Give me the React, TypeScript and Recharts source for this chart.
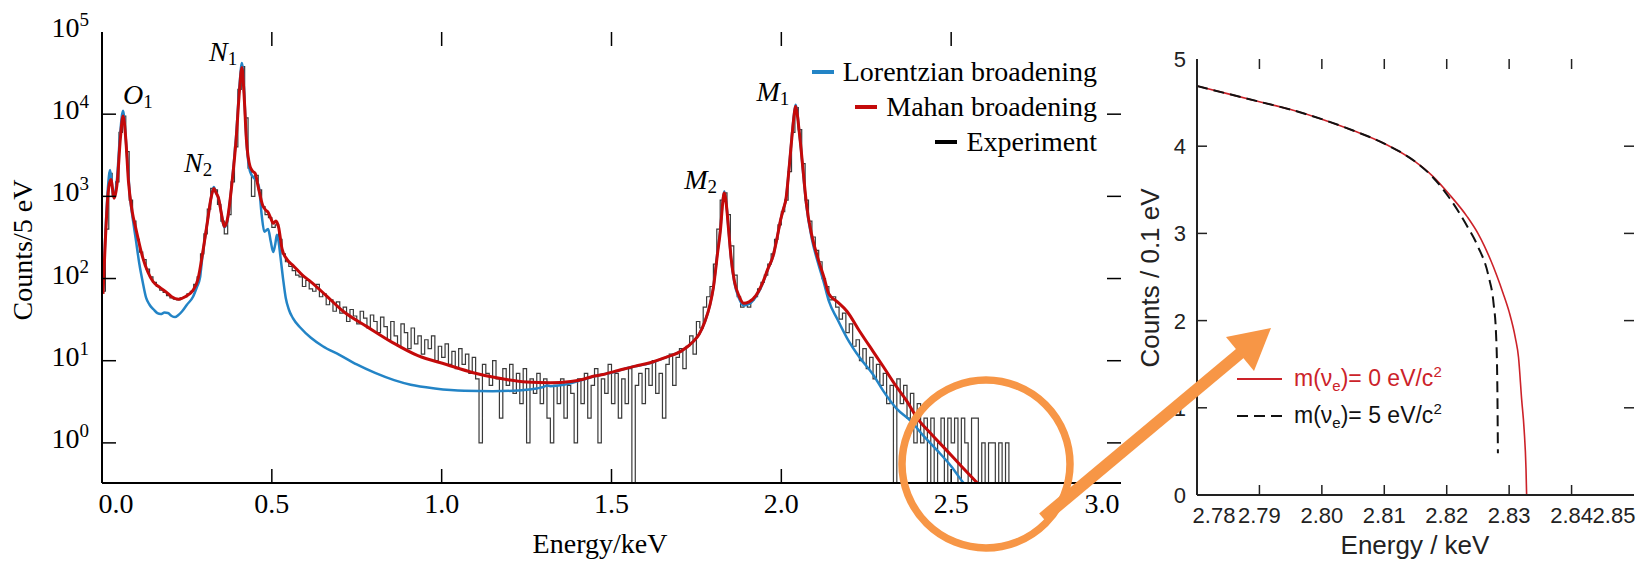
import React from "react";
import { ComposedChart, Legend, Line, Scatter, XAxis, YAxis } from "recharts";

const SERIF = "'Liberation Serif', 'Times New Roman', serif";
const SANS = "'Liberation Sans', Arial, Helvetica, sans-serif";

// ---------- left panel: spectrum, counts per 5 eV (log) ----------
const SPEC_X_DOMAIN: [number, number] = [0, 3];
const SPEC_Y_DOMAIN: [number, number] = [0.325, 100000];
const SPEC_X_TICKS = [0, 0.5, 1, 1.5, 2, 2.5, 3];
const SPEC_Y_TICKS = [1, 10, 100, 1000, 10000, 100000];

// experiment histogram, 0.01 keV bins starting at 0.00 keV
const EXP_START = 0;
const EXP_STEP = 0.01;
const EXP_COUNTS = [
  70, 400, 1900, 1000, 1500, 6000, 9500, 3500, 900, 500,
  300, 210, 170, 130, 105, 90, 80, 72, 68, 62,
  58, 56, 55, 58, 60, 65, 70, 85, 105, 200,
  350, 700, 1250, 1200, 800, 500, 350, 600, 1500, 4000,
  20000, 38000, 9000, 2200, 1000, 1800, 1200, 750, 600, 550,
  420, 450, 300, 200, 160, 140, 125, 110, 105, 80,
  95, 75, 70, 85, 60, 65, 48, 55, 40, 52,
  38, 45, 30, 42, 35, 28, 40, 33, 25, 36,
  30, 22, 34, 26, 18, 30, 20, 15, 28, 22,
  14, 25, 16, 20, 12, 18, 14, 20, 10, 15,
  11, 16, 9, 13, 8, 14, 9, 12, 7, 11,
  6, 1, 9, 7, 5, 10, 6, 2, 8, 5,
  9, 4, 7, 3, 8, 1, 6, 4, 7, 3,
  6, 2, 1, 5, 3, 6, 2, 5, 4, 1,
  6, 3, 7, 2, 5, 8, 1, 6, 4, 9,
  3, 7, 2, 6, 3, 8, 0, 5, 7, 3,
  8, 5, 10, 4, 7, 2, 9, 12, 5, 11,
  14, 8, 15, 20, 12, 30, 25, 45, 60, 80,
  150, 400, 900, 1100, 600, 250, 110, 60, 45, 50,
  45, 55, 60, 75, 90, 110, 150, 200, 300, 450,
  650, 900, 2000, 6000, 12000, 6500, 2500, 900, 500, 320,
  220, 160, 100, 80, 55, 60, 45, 32, 38, 22,
  28, 15, 18, 10, 14, 8, 11, 6, 9, 5,
  7, 3, 5, 0, 6, 3, 5, 2, 4, 1,
  3, 1, 2, 0, 2, 0, 1, 2, 0, 2,
  1, 2, 0, 2, 1, 0, 2, 2, 0, 1,
  0, 1, 1, 0, 1, 0, 1, 0,
];

const LORENTZ: [number, number][] = [
  [0.003, 70], [0.01, 350], [0.017, 1200], [0.024, 2100], [0.034, 1000],
  [0.044, 1600], [0.053, 5500], [0.062, 11000], [0.07, 5000], [0.077, 2000],
  [0.083, 940], [0.091, 520], [0.099, 310], [0.11, 150], [0.12, 90],
  [0.13, 58], [0.14, 48], [0.152, 42], [0.163, 38], [0.173, 37],
  [0.184, 38.5], [0.194, 38], [0.205, 35], [0.215, 34], [0.225, 36],
  [0.236, 40], [0.25, 48], [0.268, 60], [0.28, 80], [0.288, 100],
  [0.296, 190], [0.309, 450], [0.322, 1000], [0.329, 1300], [0.336, 1100],
  [0.343, 950], [0.352, 600], [0.36, 420], [0.368, 480], [0.383, 1550],
  [0.395, 5500], [0.405, 23000], [0.412, 42000], [0.418, 20000], [0.425, 5000],
  [0.436, 2000], [0.446, 1700], [0.455, 1550], [0.462, 1300], [0.47, 600],
  [0.478, 370], [0.489, 400], [0.497, 280], [0.504, 210], [0.51, 260],
  [0.515, 340], [0.52, 280], [0.525, 190], [0.533, 100], [0.541, 58],
  [0.55, 42], [0.562, 33], [0.585, 25], [0.615, 19], [0.65, 15],
  [0.699, 11.8], [0.75, 9], [0.804, 7.1], [0.86, 5.8], [0.909, 5.1],
  [0.98, 4.6], [1.067, 4.3], [1.15, 4.25], [1.225, 4.35], [1.28, 4.6],
  [1.3, 4.8], [1.31, 5.0], [1.32, 4.9], [1.36, 5.1], [1.4, 5.6],
  [1.453, 6.5], [1.508, 7.3], [1.55, 8.2], [1.616, 9.4], [1.66, 11],
  [1.704, 13], [1.74, 17], [1.758, 21], [1.775, 30], [1.79, 48],
  [1.8, 78], [1.812, 210], [1.821, 420], [1.827, 850], [1.832, 1150],
  [1.838, 820], [1.845, 380], [1.852, 175], [1.862, 88], [1.875, 58],
  [1.889, 47], [1.905, 49], [1.925, 60], [1.943, 83], [1.96, 128],
  [1.976, 190], [1.988, 320], [1.998, 520], [2.006, 700], [2.014, 950],
  [2.022, 2050], [2.031, 5400], [2.038, 10500], [2.042, 13000], [2.047, 10500],
  [2.052, 6500], [2.058, 3700], [2.066, 1600], [2.074, 760], [2.09, 300],
  [2.107, 160], [2.125, 90], [2.14, 53], [2.165, 32], [2.193, 19],
  [2.23, 11], [2.27, 6.8], [2.3, 4.3], [2.34, 2.6], [2.38, 1.87],
  [2.42, 1.2], [2.46, 0.8], [2.5, 0.52], [2.537, 0.325], [2.545, 0.3],
];

const MAHAN: [number, number][] = [
  [0.003, 65], [0.01, 300], [0.018, 1100], [0.026, 1600], [0.036, 950],
  [0.045, 1500], [0.054, 5000], [0.062, 9500], [0.07, 5000], [0.078, 1500],
  [0.089, 650], [0.1, 400], [0.12, 180], [0.135, 120], [0.15, 92],
  [0.17, 78], [0.19, 68], [0.205, 60], [0.226, 56], [0.245, 60],
  [0.268, 72], [0.283, 100], [0.296, 200], [0.309, 450], [0.322, 1000],
  [0.329, 1250], [0.336, 1100], [0.343, 950], [0.352, 600], [0.36, 430],
  [0.368, 500], [0.383, 1500], [0.395, 5000], [0.405, 20000], [0.412, 37000],
  [0.418, 18000], [0.425, 5000], [0.436, 2300], [0.445, 2000], [0.451, 1900],
  [0.46, 1300], [0.473, 780], [0.482, 680], [0.489, 640], [0.497, 540],
  [0.504, 470], [0.512, 500], [0.52, 420], [0.53, 230], [0.545, 170],
  [0.562, 145], [0.59, 110], [0.615, 91], [0.66, 62], [0.71, 40],
  [0.78, 26], [0.857, 16.5], [0.93, 11.5], [1.014, 9], [1.09, 7.2],
  [1.17, 6.1], [1.25, 5.5], [1.32, 5.4], [1.38, 5.6], [1.42, 6.0],
  [1.45, 6.5], [1.475, 6.8], [1.52, 7.6], [1.57, 8.6], [1.616, 9.5],
  [1.66, 11], [1.704, 13], [1.74, 17], [1.758, 21], [1.775, 30],
  [1.79, 48], [1.8, 78], [1.812, 200], [1.821, 400], [1.827, 800],
  [1.832, 1100], [1.838, 800], [1.845, 380], [1.852, 180], [1.862, 92],
  [1.875, 62], [1.889, 50], [1.905, 52], [1.925, 62], [1.943, 85],
  [1.96, 130], [1.976, 190], [1.988, 320], [1.998, 520], [2.006, 700],
  [2.014, 950], [2.022, 2000], [2.031, 5200], [2.038, 10000], [2.042, 12500],
  [2.047, 10000], [2.052, 6500], [2.058, 3800], [2.066, 1700], [2.074, 800],
  [2.09, 330], [2.107, 180], [2.125, 105], [2.14, 65], [2.165, 52],
  [2.193, 40], [2.23, 23], [2.27, 13], [2.3, 8.5], [2.335, 5.1],
  [2.37, 3.2], [2.4, 2.0], [2.44, 1.3], [2.488, 0.8], [2.53, 0.52],
  [2.577, 0.325], [2.585, 0.3],
];

const PEAK_NAMES = ["O", "N", "N", "M", "M"];
const PEAK_SUBS = ["1", "1", "2", "2", "1"];
const PEAK_E = [0.062, 0.315, 0.2415, 1.714, 1.927];
const PEAK_C = [13200, 44000, 1960, 1230, 14400];

const SPEC_LEGEND = [
  { label: "Lorentzian broadening", color: "#2384c6" },
  { label: "Mahan broadening", color: "#c40a0a" },
  { label: "Experiment", color: "#000000" },
];

// ---------- right panel: endpoint zoom ----------
const END_X_DOMAIN: [number, number] = [2.78, 2.85];
const END_Y_DOMAIN: [number, number] = [0, 5];
const END_X_TICKS = [2.78, 2.79, 2.8, 2.81, 2.82, 2.83, 2.84, 2.85];
const END_Y_TICKS = [0, 1, 2, 3, 4, 5];

const MASS0: [number, number][] = [
  [2.78, 4.69], [2.785, 4.6], [2.79, 4.51], [2.795, 4.42], [2.8, 4.31],
  [2.805, 4.18], [2.81, 4.03], [2.815, 3.82], [2.8177, 3.66], [2.8205, 3.44],
  [2.8233, 3.19], [2.825, 3.0], [2.826, 2.86], [2.827, 2.7], [2.828, 2.52],
  [2.829, 2.32], [2.83, 2.1], [2.831, 1.8], [2.8315, 1.58], [2.832, 1.1],
  [2.8324, 0.75], [2.8327, 0.3], [2.8328, 0],
];

const MASS5: [number, number][] = [
  [2.78, 4.69], [2.785, 4.6], [2.79, 4.51], [2.795, 4.42], [2.8, 4.31],
  [2.805, 4.18], [2.81, 4.03], [2.815, 3.82], [2.8177, 3.65], [2.8205, 3.4],
  [2.8233, 3.08], [2.825, 2.85], [2.8267, 2.51], [2.8275, 2.2], [2.8279, 1.85],
  [2.8281, 1.3], [2.8282, 0.48],
];

const LOG_FLOOR = 0.1; // empty bins sit below the axis
const expRows = EXP_COUNTS.map((c, i) => ({
  e: +(EXP_START + i * EXP_STEP).toFixed(2),
  c: Math.max(c, LOG_FLOOR),
}));
const toRows = (pts: [number, number][]) => pts.map(([e, c]) => ({ e, c }));
const peakRows = PEAK_E.map((e, i) => ({ e, c: PEAK_C[i], name: PEAK_NAMES[i], sub: PEAK_SUBS[i] }));

// ---------- frame geometry (page px) ----------
const END_OFFSET = 1125; // left edge of the zoom panel
const SPEC_BOX = { left: 102, right: 1121, top: 32, bottom: 483 };
const END_BOX = { left: END_OFFSET + 72, right: END_OFFSET + 509, top: 59, bottom: 495 };

// inward tick marks on all four sides of a box: anchored on the frame, drawn
// towards the plot interior by a small scatter shape
type Dir = "up" | "down" | "left" | "right";
function boxTickRows(xd: [number, number], yd: [number, number], xt: number[], yt: number[]) {
  const eps = 1e-9;
  const inX = xt.filter((v) => v > xd[0] + eps && v < xd[1] - eps);
  const inY = yt.filter((v) => v > yd[0] + eps && v < yd[1] - eps);
  return [
    ...inX.map((v) => ({ e: v, c: yd[1], dir: "down" as Dir })),
    ...inY.map((v) => ({ e: xd[1], c: v, dir: "left" as Dir })),
  ];
}
const specTickRows = boxTickRows(SPEC_X_DOMAIN, SPEC_Y_DOMAIN, SPEC_X_TICKS, SPEC_Y_TICKS);
const endTickRows = boxTickRows(END_X_DOMAIN, END_Y_DOMAIN, END_X_TICKS, END_Y_TICKS);

function tickShape(len: number, color: string) {
  return ({ cx, cy, payload }: any) => {
    const d: Dir = payload.dir;
    const x2 = d === "right" ? cx + len : d === "left" ? cx - len : cx;
    const y2 = d === "up" ? cy - len : d === "down" ? cy + len : cy;
    return <line x1={cx} y1={cy} x2={x2} y2={y2} stroke={color} strokeWidth={1.5} />;
  };
}

// bottom / left inward ticks, placed on the frame with the same linear / log mapping as the axes
function frameTicks(
  box: typeof SPEC_BOX,
  xd: [number, number],
  yd: [number, number],
  xt: number[],
  yt: number[],
  logY: boolean,
  len: number,
  color: string,
  key: string,
) {
  const f = (v: number) => (logY ? Math.log10(v) : v);
  const sx = (v: number) => box.left + ((v - xd[0]) / (xd[1] - xd[0])) * (box.right - box.left);
  const sy = (v: number) => box.bottom - ((f(v) - f(yd[0])) / (f(yd[1]) - f(yd[0]))) * (box.bottom - box.top);
  const eps = 1e-9;
  const out: React.ReactNode[] = [];
  xt.filter((v) => v > xd[0] + eps && v < xd[1] - eps).forEach((v) => {
    out.push(<line key={`${key}b${v}`} x1={sx(v)} x2={sx(v)} y1={box.bottom} y2={box.bottom - len} stroke={color} strokeWidth={1.5} />);
  });
  yt.filter((v) => v > yd[0] + eps && v < yd[1] - eps).forEach((v) => {
    out.push(<line key={`${key}l${v}`} x1={box.left} x2={box.left + len} y1={sy(v)} y2={sy(v)} stroke={color} strokeWidth={1.5} />);
  });
  return out;
}

// ---------- tick label renderers ----------
function SpecBottomTick({ x, payload }: any) {
  const v = payload.value;
  const dx = v <= 0 ? 14 : v >= 3 ? -19 : 0;
  return (
    <text x={x + dx} y={SPEC_BOX.bottom + 30} textAnchor="middle" fontFamily={SERIF} fontSize={28} fill="#000">
      {v.toFixed(1)}
    </text>
  );
}

function SpecLeftTick({ y, payload }: any) {
  const p = Math.round(Math.log10(payload.value));
  return (
    <text x={SPEC_BOX.left - 13} y={y + 5} textAnchor="end" fontFamily={SERIF} fontSize={28} fill="#000">
      10
      <tspan dy={-11} fontSize={19}>{p}</tspan>
    </text>
  );
}

function PeakLabel({ cx, cy, payload }: any) {
  return (
    <text x={cx} y={cy} fontFamily={SERIF} fontSize={28} fontStyle="italic" fill="#000">
      {payload.name}
      <tspan dy={4} fontSize={19} fontStyle="normal">{payload.sub}</tspan>
    </text>
  );
}

function EndBottomTick({ x, payload }: any) {
  const v = payload.value;
  const dx = v < 2.7801 ? 17 : v > 2.8499 ? -20 : 0;
  return (
    <text x={x + dx} y={END_BOX.bottom + 28} textAnchor="middle" fontFamily={SANS} fontSize={22} fill="#222">
      {v.toFixed(2)}
    </text>
  );
}

function EndLeftTick({ y, payload }: any) {
  return (
    <text x={END_BOX.left - END_OFFSET - 11} y={y + 8} textAnchor="end" fontFamily={SANS} fontSize={22} fill="#222">
      {payload.value}
    </text>
  );
}

function SpecLegend() {
  return (
    <div style={{ display: "flex", flexDirection: "column", alignItems: "flex-end", fontFamily: SERIF, fontSize: 28 }}>
      {SPEC_LEGEND.map((d) => (
        <div key={d.label} style={{ display: "flex", alignItems: "center", height: 35, whiteSpace: "nowrap" }}>
          <span style={{ display: "inline-block", width: 22, height: 4, background: d.color, marginRight: 9 }} />
          <span style={{ color: "#000" }}>{d.label}</span>
        </div>
      ))}
    </div>
  );
}

function EndLegend() {
  const rows = [
    { mass: "0", color: "#cc2229", dash: undefined },
    { mass: "5", color: "#111111", dash: "11 6" },
  ];
  return (
    <div style={{ display: "flex", flexDirection: "column", fontFamily: SANS, fontSize: 23 }}>
      {rows.map((r) => (
        <div key={r.mass} style={{ display: "flex", alignItems: "center", height: 37, whiteSpace: "nowrap" }}>
          <svg width={45} height={4} style={{ marginRight: 12 }}>
            <line x1={0} x2={45} y1={2} y2={2} stroke={r.color} strokeWidth={2} strokeDasharray={r.dash} />
          </svg>
          <span style={{ color: r.color }}>
            m(ν<sub style={{ fontSize: 15 }}>e</sub>)= {r.mass} eV/c<sup style={{ fontSize: 15 }}>2</sup>
          </span>
        </div>
      ))}
    </div>
  );
}

const noOffsetLegend = { layout: "vertical" as const, align: "center" as const, verticalAlign: "middle" as const };
const NoLabel = () => <g />;

export default function App() {
  return (
    <div style={{ position: "relative", width: 1648, height: 562, background: "#fff", overflow: "hidden" }}>
      <style>{"body{margin:0}"}</style>

      <div style={{ position: "absolute", left: 0, top: 0 }}>
        <ComposedChart width={1125} height={562} margin={{ top: 32, right: 4, bottom: 39, left: 12 }}>
          <XAxis
            dataKey="e"
            type="number"
            domain={SPEC_X_DOMAIN}
            ticks={SPEC_X_TICKS}
            interval={0}
            allowDataOverflow
            height={40}
            tickSize={0}
            tickMargin={0}
            tickLine={false}
            axisLine={{ stroke: "#000", strokeWidth: 2 }}
            tick={SpecBottomTick}
            label={() => (
              <text x={600} y={553} textAnchor="middle" fontFamily={SERIF} fontSize={28} fill="#000">
                Energy/keV
              </text>
            )}
          />
          <XAxis
            xAxisId="top"
            orientation="top"
            dataKey="e"
            type="number"
            domain={SPEC_X_DOMAIN}
            ticks={SPEC_X_TICKS}
            interval={0}
            height={0}
            tickSize={0}
            tickLine={false}
            axisLine={{ stroke: "#000", strokeWidth: 2 }}
            tick={NoLabel}
          />
          <YAxis
            scale="log"
            type="number"
            domain={SPEC_Y_DOMAIN}
            ticks={SPEC_Y_TICKS}
            interval={0}
            allowDataOverflow
            width={90}
            tickSize={0}
            tickMargin={0}
            tickLine={false}
            axisLine={{ stroke: "#000", strokeWidth: 2 }}
            tick={SpecLeftTick}
            label={() => (
              <text
                x={22}
                y={250}
                dy="0.35em"
                textAnchor="middle"
                transform="rotate(-90 22 250)"
                fontFamily={SERIF}
                fontSize={28}
                fill="#000"
              >
                Counts/5 eV
              </text>
            )}
          />
          <YAxis
            yAxisId="right"
            orientation="right"
            scale="log"
            type="number"
            domain={SPEC_Y_DOMAIN}
            ticks={SPEC_Y_TICKS}
            interval={0}
            allowDataOverflow
            width={0}
            tickSize={0}
            tickLine={false}
            axisLine={{ stroke: "#000", strokeWidth: 2 }}
            tick={NoLabel}
          />
          <Line
            data={expRows}
            dataKey="c"
            type="stepAfter"
            stroke="#3a3a3a"
            strokeWidth={1.2}
            dot={false}
            activeDot={false}
            isAnimationActive={false}
          />
          <Line
            data={toRows(LORENTZ)}
            dataKey="c"
            type="monotone"
            stroke="#2384c6"
            strokeWidth={2.5}
            dot={false}
            activeDot={false}
            isAnimationActive={false}
          />
          <Line
            data={toRows(MAHAN)}
            dataKey="c"
            type="monotone"
            stroke="#c40a0a"
            strokeWidth={3}
            dot={false}
            activeDot={false}
            isAnimationActive={false}
          />
          <Scatter data={specTickRows} dataKey="c" shape={tickShape(14, "#000")} isAnimationActive={false} />
          <Scatter data={peakRows} dataKey="c" shape={PeakLabel} isAnimationActive={false} />
          <Legend {...noOffsetLegend} content={() => <SpecLegend />} wrapperStyle={{ top: 54, right: 28, left: "auto", width: "auto" }} />
        </ComposedChart>
      </div>

      <div style={{ position: "absolute", left: END_OFFSET, top: 0 }}>
        <ComposedChart width={523} height={562} margin={{ top: 59, right: 14, bottom: 27, left: 12 }}>
          <XAxis
            dataKey="e"
            type="number"
            domain={END_X_DOMAIN}
            ticks={END_X_TICKS}
            interval={0}
            allowDataOverflow
            height={40}
            tickSize={0}
            tickMargin={0}
            tickLine={false}
            axisLine={{ stroke: "#222", strokeWidth: 2 }}
            tick={EndBottomTick}
            label={() => (
              <text x={290} y={554} textAnchor="middle" fontFamily={SANS} fontSize={26} fill="#222">
                Energy / keV
              </text>
            )}
          />
          <XAxis
            xAxisId="top"
            orientation="top"
            dataKey="e"
            type="number"
            domain={END_X_DOMAIN}
            ticks={END_X_TICKS}
            interval={0}
            height={0}
            tickSize={0}
            tickLine={false}
            axisLine={{ stroke: "#222", strokeWidth: 2 }}
            tick={NoLabel}
          />
          <YAxis
            type="number"
            domain={END_Y_DOMAIN}
            ticks={END_Y_TICKS}
            interval={0}
            allowDataOverflow
            width={60}
            tickSize={0}
            tickMargin={0}
            tickLine={false}
            axisLine={{ stroke: "#222", strokeWidth: 2 }}
            tick={EndLeftTick}
            label={() => (
              <text
                x={25}
                y={278}
                dy="0.35em"
                textAnchor="middle"
                transform="rotate(-90 25 278)"
                fontFamily={SANS}
                fontSize={26}
                fill="#222"
              >
                Counts / 0.1 eV
              </text>
            )}
          />
          <YAxis
            yAxisId="right"
            orientation="right"
            type="number"
            domain={END_Y_DOMAIN}
            ticks={END_Y_TICKS}
            interval={0}
            width={0}
            tickSize={0}
            tickLine={false}
            axisLine={{ stroke: "#222", strokeWidth: 2 }}
            tick={NoLabel}
          />
          <Line
            data={toRows(MASS0)}
            dataKey="c"
            type="monotone"
            stroke="#cc2229"
            strokeWidth={1.6}
            dot={false}
            activeDot={false}
            isAnimationActive={false}
          />
          <Line
            data={toRows(MASS5)}
            dataKey="c"
            type="monotone"
            stroke="#111"
            strokeWidth={2}
            strokeDasharray="11 6"
            dot={false}
            activeDot={false}
            isAnimationActive={false}
          />
          <Scatter data={endTickRows} dataKey="c" shape={tickShape(10, "#222")} isAnimationActive={false} />
          <Legend {...noOffsetLegend} content={() => <EndLegend />} wrapperStyle={{ top: 360, left: 112, width: "auto" }} />
        </ComposedChart>
      </div>

      {/* frame ticks on the bottom / left edges, then the orange callout on top */}
      <svg width={1648} height={562} style={{ position: "absolute", left: 0, top: 0, pointerEvents: "none" }}>
        {frameTicks(SPEC_BOX, SPEC_X_DOMAIN, SPEC_Y_DOMAIN, SPEC_X_TICKS, SPEC_Y_TICKS, true, 14, "#000", "s")}
        {frameTicks(END_BOX, END_X_DOMAIN, END_Y_DOMAIN, END_X_TICKS, END_Y_TICKS, false, 10, "#222", "z")}
        <circle cx={986} cy={464} r={84} fill="none" stroke="#f79646" strokeWidth={7.5} />
        <line x1={1043} y1={518} x2={1244} y2={350} stroke="#f79646" strokeWidth={12} />
        <polygon points="1271,328 1254,371 1226,337" fill="#f79646" />
      </svg>
    </div>
  );
}
